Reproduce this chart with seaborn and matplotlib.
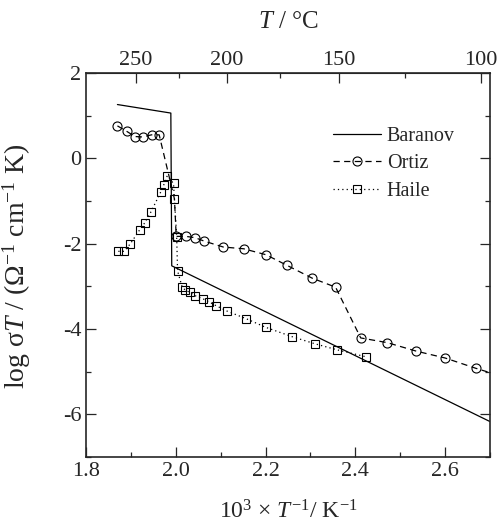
import numpy as np
import pandas as pd
import matplotlib
matplotlib.use("Agg")
import matplotlib.pyplot as plt
from matplotlib.ticker import MultipleLocator, FixedLocator
import seaborn as sns

# data (x = 1000/T in 1/K, y = log(sigma*T))
baranov_x = [1.870, 1.989, 1.991, 2.700]
baranov_y = [1.26, 1.06, -2.52, -6.17]

ortiz_x = [1.870, 1.891, 1.909, 1.926, 1.946, 1.963, 1.997, 2.001, 2.0225, 2.043,
           2.063, 2.106, 2.151, 2.201, 2.248, 2.304, 2.356, 2.412, 2.471, 2.536,
           2.600, 2.668, 2.730]
ortiz_y = [0.76, 0.63, 0.51, 0.50, 0.55, 0.55, -0.95, -1.83, -1.83, -1.86,
           -1.94, -2.08, -2.12, -2.26, -2.51, -2.81, -3.02, -4.21, -4.32, -4.52,
           -4.68, -4.92, -5.12]

haile_x = [1.872, 1.885, 1.899, 1.920, 1.931, 1.945, 1.966, 1.973, 1.981, 1.995,
           1.997, 2.002, 2.004, 2.014, 2.021, 2.031, 2.043, 2.060, 2.075, 2.089,
           2.114, 2.157, 2.200, 2.259, 2.311, 2.360, 2.423]
haile_y = [-2.18, -2.18, -2.00, -1.67, -1.51, -1.25, -0.80, -0.63, -0.41, -0.59,
           -0.95, -1.84, -2.64, -3.01, -3.09, -3.14, -3.22, -3.29, -3.37, -3.45,
           -3.58, -3.76, -3.96, -4.18, -4.35, -4.49, -4.65]

celsius_major = [250, 200, 150, 100]
celsius_minor = [225, 175, 125]

sns.set_style("ticks")
plt.rcParams['font.family'] = ['Liberation Serif', 'DejaVu Serif']
plt.rcParams['mathtext.fontset'] = 'custom'
plt.rcParams['mathtext.rm'] = 'Liberation Serif'
plt.rcParams['mathtext.it'] = 'Liberation Serif:italic'
plt.rcParams['axes.unicode_minus'] = False
plt.rcParams['xtick.direction'] = 'in'
plt.rcParams['ytick.direction'] = 'in'

fig = plt.figure(figsize=(4.98, 5.31), dpi=100)
ax = fig.add_axes([0.1727, 0.1394, 0.8112, 0.7232])

df_b = pd.DataFrame({'x': baranov_x, 'y': baranov_y})
df_o = pd.DataFrame({'x': ortiz_x, 'y': ortiz_y})
df_h = pd.DataFrame({'x': haile_x, 'y': haile_y})

# the Ortiz point at the knee sits under a Haile square, no marker drawn there
ortiz_marks = [i for i in range(len(ortiz_x)) if i != 6]

sns.lineplot(data=df_b, x='x', y='y', ax=ax, color='black', lw=0.9,
             sort=False, estimator=None, label='Baranov')
sns.lineplot(data=df_o, x='x', y='y', ax=ax, color='black', lw=0.9,
             sort=False, estimator=None, label='Ortiz',
             marker='o', markersize=6.5, markerfacecolor='none',
             markeredgecolor='black', markeredgewidth=0.8,
             markevery=ortiz_marks)
sns.lineplot(data=df_h, x='x', y='y', ax=ax, color='black', lw=0.9,
             sort=False, estimator=None, label='Haile',
             marker='s', markersize=6, markerfacecolor='none',
             markeredgecolor='black', markeredgewidth=0.8)
ax.lines[1].set_dashes((5, 3.5))
ax.lines[2].set_dashes((1, 2.5))

ax.set_xlim(1.8, 2.7)
ax.set_ylim(-7, 2)
ax.xaxis.set_major_locator(MultipleLocator(0.2))
ax.xaxis.set_minor_locator(MultipleLocator(0.1))
ax.yaxis.set_major_locator(FixedLocator([-6, -4, -2, 0, 2]))
ax.yaxis.set_minor_locator(MultipleLocator(1))
ax.tick_params(which='major', length=7, width=0.9, labelsize=16)
ax.tick_params(which='minor', length=3.5, width=0.9)
ax.tick_params(axis='y', which='both', right=True)
ax.tick_params(axis='x', which='both', top=False)
for s in ax.spines.values():
    s.set_linewidth(1.2)

ax.set_xlabel(r'10$^3$ × $T^{-1}$/ K$^{-1}$', fontsize=17, labelpad=14)
ax.set_ylabel(r'log σ$T$ / (Ω$^{-1}$ cm$^{-1}$ K)', fontsize=20)
ax.yaxis.set_label_coords(-0.132, 0.495)

to_c = lambda x: 1000.0 / np.asarray(x, dtype=float) - 273.15
to_x = lambda c: 1000.0 / (np.asarray(c, dtype=float) + 273.15)
sec = ax.secondary_xaxis('top', functions=(to_c, to_x))
sec.set_xticks(celsius_major)
sec.xaxis.set_minor_locator(FixedLocator(celsius_minor))
sec.tick_params(which='major', direction='in', length=7, width=0.9, labelsize=16, pad=2)
sec.tick_params(which='minor', direction='in', length=3.5, width=0.9)
sec.set_xlabel(r'$T$ / °C', fontsize=18, labelpad=17)

ax.legend(frameon=False, loc='upper right', bbox_to_anchor=(0.958, 0.906),
          fontsize=14.5, handlelength=2.4, handletextpad=0.3, labelspacing=0.4)

fig.savefig('out.png', dpi=100)
